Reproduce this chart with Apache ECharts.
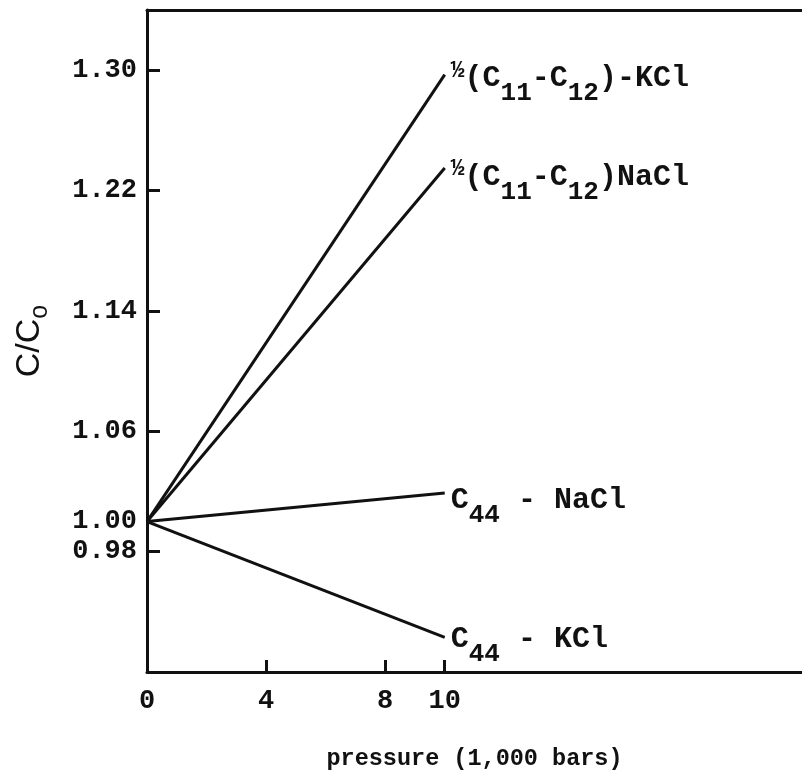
<!DOCTYPE html>
<html>
<head>
<meta charset="utf-8">
<style>html,body{margin:0;padding:0;background:#fff;}#c{width:802px;height:772px;}</style>
<script src="https://cdn.jsdelivr.net/npm/echarts@6/dist/echarts.min.js"></script>
</head>
<body>
<div id="c"></div>
<script>
// Data
const pressure = [0, 10];                 // 1,000 bars
const shearKCl = [1.00, 1.297];          // 1/2(C11-C12) KCl
const shearNaCl = [1.00, 1.235];         // 1/2(C11-C12) NaCl
const c44NaCl = [1.00, 1.019];           // C44 NaCl
const c44KCl = [1.00, 0.923];            // C44 KCl
const xTickValues = [4, 8, 10];
const xLabelValues = [0, 4, 8, 10];
const yTickValues = [0.98, 1.06, 1.14, 1.22, 1.30];
const yLabelValues = [0.98, 1.00, 1.06, 1.14, 1.22, 1.30];
const labelTexts = [
  '{f|½}{m|(C}{s|11}{m|-C}{s|12}{m|)-KCl}',
  '{f|½}{m|(C}{s|11}{m|-C}{s|12}{m|)NaCl}',
  '{m|C}{s|44}{m| - NaCl}',
  '{m|C}{s|44}{m| - KCl}'
];

const INK = '#111';
const MONO = '"Liberation Mono", "DejaVu Sans Mono", monospace';
const rich = {
  m: {fontFamily: MONO, fontWeight: 'bold', fontSize: 30, color: INK, lineHeight: 56, verticalAlign: 'middle'},
  s: {fontFamily: MONO, fontWeight: 'bold', fontSize: 26, color: INK, lineHeight: 56, verticalAlign: 'bottom'},
  f: {fontFamily: MONO, fontWeight: 'bold', fontSize: 23, color: INK, lineHeight: 56, verticalAlign: 'top', padding: [9, 0, 0, 0]}
};

function buildSeries(vals, text, offset) {
  return {
    type: 'line', data: pressure.map((p, i) => [p, vals[i]]), showSymbol: false, symbol: 'none', silent: true,
    lineStyle: {color: INK, width: 3},
    endLabel: {show: true, distance: 6, offset: offset, formatter: text, rich: rich}
  };
}

const chart = echarts.init(document.getElementById('c'), null, {renderer: 'canvas'});
chart.setOption({
  animation: false,
  backgroundColor: '#fff',
  grid: {left: 147, right: 0, top: 10, bottom: 100, containLabel: false, outerBoundsMode: 'none'},
  xAxis: [{
    type: 'value', min: 0, max: 22, position: 'bottom',
    name: 'pressure (1,000 bars)', nameLocation: 'middle', nameGap: 75,
    nameTextStyle: {fontFamily: MONO, fontWeight: 'bold', fontSize: 23.5, color: INK},
    axisLine: {show: true, onZero: false, lineStyle: {color: INK, width: 3}},
    axisTick: {show: true, inside: true, length: 12, customValues: xTickValues, lineStyle: {color: INK, width: 3}},
    axisLabel: {show: true, customValues: xLabelValues, margin: 16, fontFamily: MONO, fontWeight: 'bold', fontSize: 27, color: INK},
    splitLine: {show: false}
  }, {
    type: 'value', min: 0, max: 22, position: 'top',
    axisLine: {show: true, onZero: false, lineStyle: {color: INK, width: 3}},
    axisTick: {show: false}, axisLabel: {show: false}, splitLine: {show: false}
  }],
  yAxis: {
    type: 'value', min: 0.90, max: 1.34,
    name: '{a|C/C}{b|o}', nameLocation: 'middle', nameGap: 94, nameRotate: 90,
    nameTextStyle: {rich: {
      a: {fontFamily: '"Liberation Sans", Arial, sans-serif', fontSize: 34, color: INK, lineHeight: 46, verticalAlign: 'middle'},
      b: {fontFamily: '"Liberation Sans", Arial, sans-serif', fontSize: 25, color: INK, lineHeight: 46, verticalAlign: 'bottom'}
    }},
    axisLine: {show: true, onZero: false, lineStyle: {color: INK, width: 3}},
    axisTick: {show: true, inside: true, length: 13, customValues: yTickValues, lineStyle: {color: INK, width: 3}},
    axisLabel: {show: true, customValues: yLabelValues, margin: 10, fontFamily: MONO, fontWeight: 'bold', fontSize: 27, color: INK,
      formatter: v => v.toFixed(2)},
    splitLine: {show: false}
  },
  series: [
    buildSeries(shearKCl, labelTexts[0], [0, 4]),
    buildSeries(shearNaCl, labelTexts[1], [0, 9]),
    buildSeries(c44NaCl, labelTexts[2], [0, 7]),
    buildSeries(c44KCl, labelTexts[3], [0, 2])
  ]
});
</script>
</body>
</html>
